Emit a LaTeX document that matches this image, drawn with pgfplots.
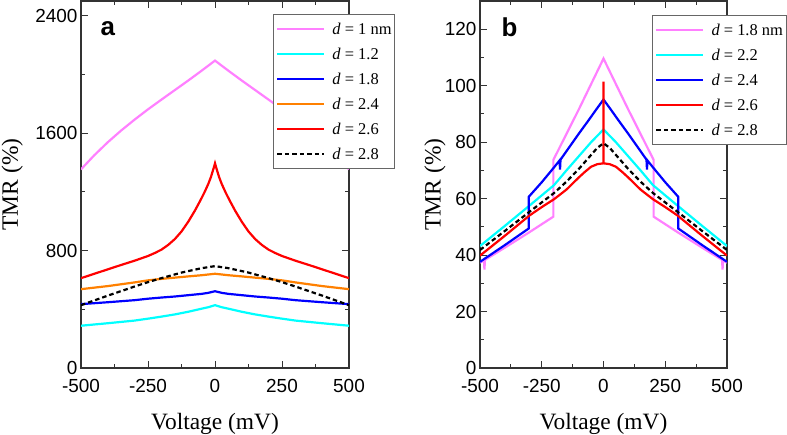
\documentclass[border=0pt]{standalone}
\usepackage{pgfplots}
\pgfplotsset{compat=1.18}
\usepackage{fontspec}
\setmainfont{Liberation Serif}
\newfontfamily\arial{Liberation Sans}
\definecolor{cpink}{RGB}{255,128,255}
\definecolor{ccyan}{RGB}{0,255,255}
\definecolor{cblue}{RGB}{0,0,255}
\definecolor{corange}{RGB}{255,128,0}
\definecolor{cred}{RGB}{255,0,0}
\pgfplotsset{
 myax/.style={
  scale only axis, anchor=south west,
  xmin=-500, xmax=500,
  xtick={-500,-250,0,250,500}, xticklabels={-500,-250,0,250,500},
  minor xtick={-375,-125,125,375},
  tick align=inside,
  major tick length=7bp, minor tick length=4bp,
  every tick/.style={black!80, line width=1bp},
  axis line style={black!80, line width=1.2bp},
  ticklabel style={font=\arial\fontsize{19}{19}\selectfont},
  xticklabel style={yshift=-8bp},
  label style={font=\fontsize{23.5}{23.5}\selectfont},
  xlabel={Voltage (mV)},
  ylabel={TMR (\%)},
  xlabel style={at={(axis description cs:0.5,-0.153)}, anchor=center},
  legend cell align=left,
  every axis plot/.append style={line width=2.2bp},
  legend image code/.code={\draw[##1] (0bp,0bp) -- (47bp,0bp);},
  legend style={draw=black!60, line width=0.8bp, font=\fontsize{16.5}{16.5}\selectfont,
    anchor=north west, inner xsep=3bp, inner ysep=8bp, row sep=12bp, column sep=7bp,
    nodes={inner sep=0bp, text height=12bp, text depth=1bp}},
 },
}
\begin{document}
\begin{tikzpicture}
\path[use as bounding box] (0,0) rectangle (787bp,435bp);
% ---------------- panel a
\begin{axis}[myax,
  at={(81bp,67bp)}, width=268bp, height=367bp,
  ymin=0, ymax=2500,
  ytick={0,800,1600,2400}, yticklabels={0,800,1600,2400},
  minor ytick={400,1200,2000},
  ylabel style={at={(axis description cs:-0.257,0.5)}, anchor=center},
  legend style={at={(0.716,0.965)}},
]
\addplot[cpink] coordinates {(-500,1353)(-450,1450)(-400,1538)(-350,1618)(-300,1692)(-250,1762)(-200,1828)(-150,1893)(-100,1958)(-50,2025)(0,2094)(50,2025)(100,1958)(150,1893)(200,1828)(250,1762)(300,1692)(350,1618)(400,1538)(450,1450)(500,1353)};
\addlegendentry{\textit{d} = 1 nm}
\addplot[ccyan] coordinates {(-500,288)(-400,305)(-300,323)(-250,336)(-200,350)(-150,365)(-100,383)(-50,404)(-25,414)(0,428)(25,414)(50,404)(100,383)(150,365)(200,350)(250,336)(300,323)(400,305)(500,288)};
\addlegendentry{\textit{d} = 1.2}
\addplot[cblue] coordinates {(-500,435)(-400,448)(-300,462)(-250,472)(-200,480)(-150,487)(-100,496)(-50,505)(-25,512)(0,523)(25,512)(50,505)(100,496)(150,487)(200,480)(250,472)(300,462)(400,448)(500,435)};
\addlegendentry{\textit{d} = 1.8}
\addplot[corange] coordinates {(-500,537)(-400,558)(-300,583)(-250,597)(-200,607)(-100,624)(-50,632)(0,642)(50,632)(100,624)(200,607)(250,597)(300,583)(400,558)(500,537)};
\addlegendentry{\textit{d} = 2.4}
\addplot[cred] coordinates {(-500,612)(-450,642)(-400,672)(-350,702)(-300,731)(-250,763)(-225,783)(-200,806)(-175,838)(-150,878)(-125,930)(-100,996)(-75,1072)(-55,1140)(-40,1194)(-25,1254)(-15,1302)(-5,1362)(0,1394)(5,1362)(15,1302)(25,1254)(40,1194)(55,1140)(75,1072)(100,996)(125,930)(150,878)(175,838)(200,806)(225,783)(250,763)(300,731)(350,702)(400,672)(450,642)(500,612)};
\addlegendentry{\textit{d} = 2.6}
\addplot[black, dash pattern=on 4.5bp off 3bp] coordinates {(-500,428)(-400,493)(-300,555)(-250,585)(-200,612)(-125,650)(-50,680)(0,694)(50,680)(125,650)(200,612)(250,585)(300,555)(400,493)(500,428)};
\addlegendentry{\textit{d} = 2.8}
\node[anchor=base west, font=\arial\bfseries\fontsize{26}{26}\selectfont] at (rel axis cs:0.060,0.905) {a};
\end{axis}
% ---------------- panel b
\begin{axis}[myax,
  at={(480bp,67bp)}, width=247bp, height=367bp,
  ymin=0, ymax=130,
  ytick={0,20,40,60,80,100,120}, yticklabels={0,20,40,60,80,100,120},
  minor ytick={10,30,50,70,90,110},
  ylabel style={at={(axis description cs:-0.182,0.5)}, anchor=center},
  legend style={at={(0.696,0.962)}},
]
\addplot[cpink] coordinates {(-500,37.3)(-484,38.2)(-482,34.9)(-480,38.3)(-400,42.6)(-300,48.1)(-203,53.6)(-203,73.7)(-100,91.6)(0,109.6)(100,91.6)(203,73.7)(203,53.6)(300,48.1)(400,42.6)(480,38.3)(482,34.9)(484,38.2)(500,37.3)};
\addlegendentry{\textit{d} = 1.8 nm}
\addplot[ccyan] coordinates {(-500,43.2)(-400,50.3)(-300,57.5)(-200,64.8)(-150,70)(-100,75)(-50,80)(0,84.5)(50,80)(100,75)(150,70)(200,64.8)(300,57.5)(400,50.3)(500,43.2)};
\addlegendentry{\textit{d} = 2.2}
\addplot[cblue] coordinates {(-500,37.6)(-400,43.5)(-303,49.4)(-303,60.6)(-250,65.8)(-200,71.1)(-178,73.5)(-176,70.3)(-174,73.8)(-150,76.8)(-100,83)(-60,87.8)(-30,91.5)(0,95.1)(30,91.5)(60,87.8)(100,83)(150,76.8)(174,73.8)(176,70.3)(178,73.5)(200,71.1)(250,65.8)(303,60.6)(303,49.4)(400,43.5)(500,37.6)};
\addlegendentry{\textit{d} = 2.4}
\addplot[cred] coordinates {(-500,39.8)(-400,46.8)(-300,54)(-250,57)(-200,59.8)(-150,63.2)(-100,67.5)(-75,69.5)(-50,71.3)(-25,72.2)(0,72.5)(0,101.4)(0,72.5)(25,72.2)(50,71.3)(75,69.5)(100,67.5)(150,63.2)(200,59.8)(250,57)(300,54)(400,46.8)(500,39.8)};
\addlegendentry{\textit{d} = 2.6}
\addplot[black, dash pattern=on 4.5bp off 3bp] coordinates {(-500,41.8)(-400,48.5)(-300,55.3)(-200,62)(-150,66)(-100,70.5)(-50,75.5)(-25,78)(0,79.6)(25,78)(50,75.5)(100,70.5)(150,66)(200,62)(300,55.3)(400,48.5)(500,41.8)};
\addlegendentry{\textit{d} = 2.8}
\node[anchor=base west, font=\arial\bfseries\fontsize{26}{26}\selectfont] at (rel axis cs:0.073,0.902) {b};
\end{axis}
\end{tikzpicture}
\end{document}
